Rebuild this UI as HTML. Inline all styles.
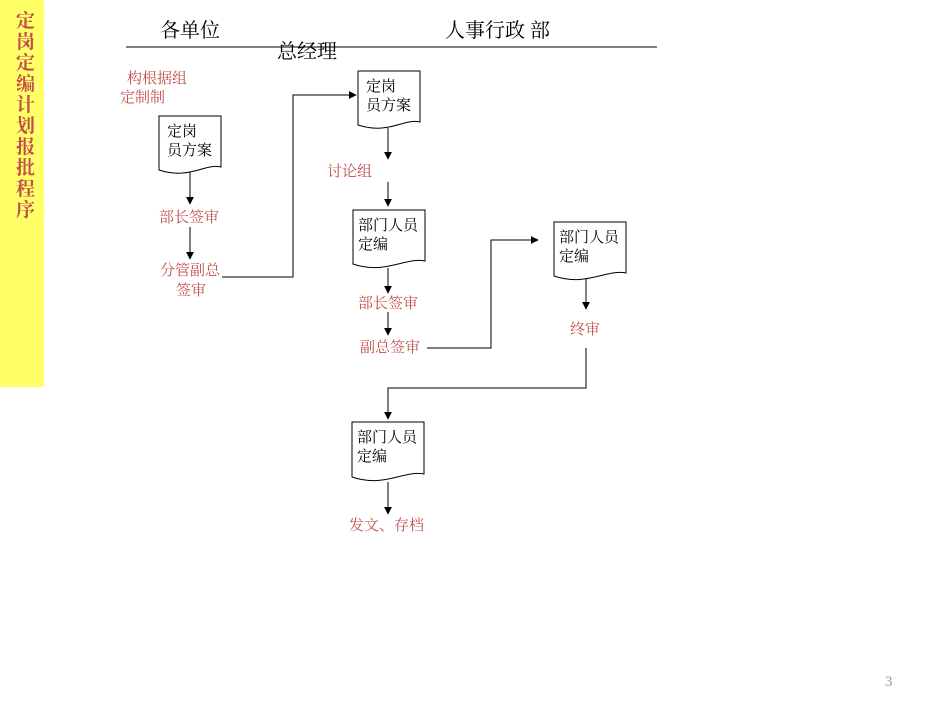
<!DOCTYPE html>
<html><head><meta charset="utf-8"><style>
body{margin:0;background:#fff;width:950px;height:713px;overflow:hidden}
svg{display:block}
text{font-family:"Liberation Serif","Noto Serif CJK SC","Noto Sans CJK SC",serif}
.r{fill:#c0504d;font-size:15px}
.k{fill:#000;font-size:15px}
.h{fill:#000;font-size:20px}
</style></head><body>
<svg width="950" height="713" viewBox="0 0 950 713">
<defs><marker id="a" viewBox="0 0 10 10" refX="9" refY="5" markerWidth="8" markerHeight="8" orient="auto" markerUnits="userSpaceOnUse"><path d="M0,0 L10,5 L0,10 Z" fill="#000"/></marker></defs>
<rect x="0" y="0" width="44" height="387" fill="#ffff66"/>
<g fill="#c0504d" font-size="19" font-weight="bold" style="font-family:'Noto Sans CJK SC',sans-serif">
<text x="16" y="27">定</text><text x="16" y="48">岗</text><text x="16" y="69">定</text><text x="16" y="90">编</text><text x="16" y="111">计</text><text x="16" y="132">划</text><text x="16" y="153">报</text><text x="16" y="174">批</text><text x="16" y="195">程</text><text x="16" y="216">序</text>
</g>
<text class="h" x="160" y="37">各单位</text>
<text class="h" x="445" y="37">人事行政 部</text>
<line x1="126" y1="47" x2="657" y2="47" stroke="#000" stroke-width="1"/>
<text class="h" x="277" y="58" font-size="19">总经理</text>
<text class="r" x="127" y="83">构根据组</text>
<text class="r" x="120" y="102">定制制</text>
<g fill="#fff" stroke="#000" stroke-width="1">
<path d="M159,116 H221 V167 C205,163 190,180 159,170 Z"/>
<path d="M358,71 H420 V122 C404,118 389,135 358,125 Z"/>
<path d="M353,210 H425 V261 C405,257 385,275 353,264 Z"/>
<path d="M554,222 H626 V273 C606,269 586,287 554,276 Z"/>
<path d="M352,422 H424 V474 C404,470 384,488 352,477 Z"/>
</g>
<text class="k" x="167" y="136">定岗</text><text class="k" x="167" y="155">员方案</text>
<text class="k" x="366" y="91">定岗</text><text class="k" x="366" y="110">员方案</text>
<text class="k" x="358" y="230">部门人员</text><text class="k" x="358" y="249">定编</text>
<text class="k" x="559" y="242">部门人员</text><text class="k" x="559" y="261">定编</text>
<text class="k" x="357" y="442">部门人员</text><text class="k" x="357" y="461">定编</text>
<text class="r" x="159" y="222">部长签审</text>
<text class="r" x="160" y="275">分管副总</text>
<text class="r" x="176" y="295">签审</text>
<text class="r" x="327" y="176">讨论组</text>
<text class="r" x="358" y="308">部长签审</text>
<text class="r" x="360" y="352">副总签审</text>
<text class="r" x="570" y="334">终审</text>
<text class="r" x="349" y="530">发文、存档</text>
<g stroke="#000" stroke-width="1" fill="none" marker-end="url(#a)">
<line x1="190" y1="172" x2="190" y2="204"/>
<line x1="190" y1="227" x2="190" y2="259"/>
<polyline points="222,277 293,277 293,95 356,95"/>
<line x1="388" y1="128" x2="388" y2="159"/>
<line x1="388" y1="182" x2="388" y2="206"/>
<line x1="388" y1="268" x2="388" y2="293"/>
<line x1="388" y1="312" x2="388" y2="335"/>
<polyline points="427,348 491,348 491,240 538,240"/>
<line x1="586" y1="279" x2="586" y2="309"/>
<polyline points="586,348 586,388 388,388 388,419"/>
<line x1="388" y1="482" x2="388" y2="514"/>
</g>
<text x="885" y="686" font-size="15" fill="#999">3</text>
</svg>
</body></html>
